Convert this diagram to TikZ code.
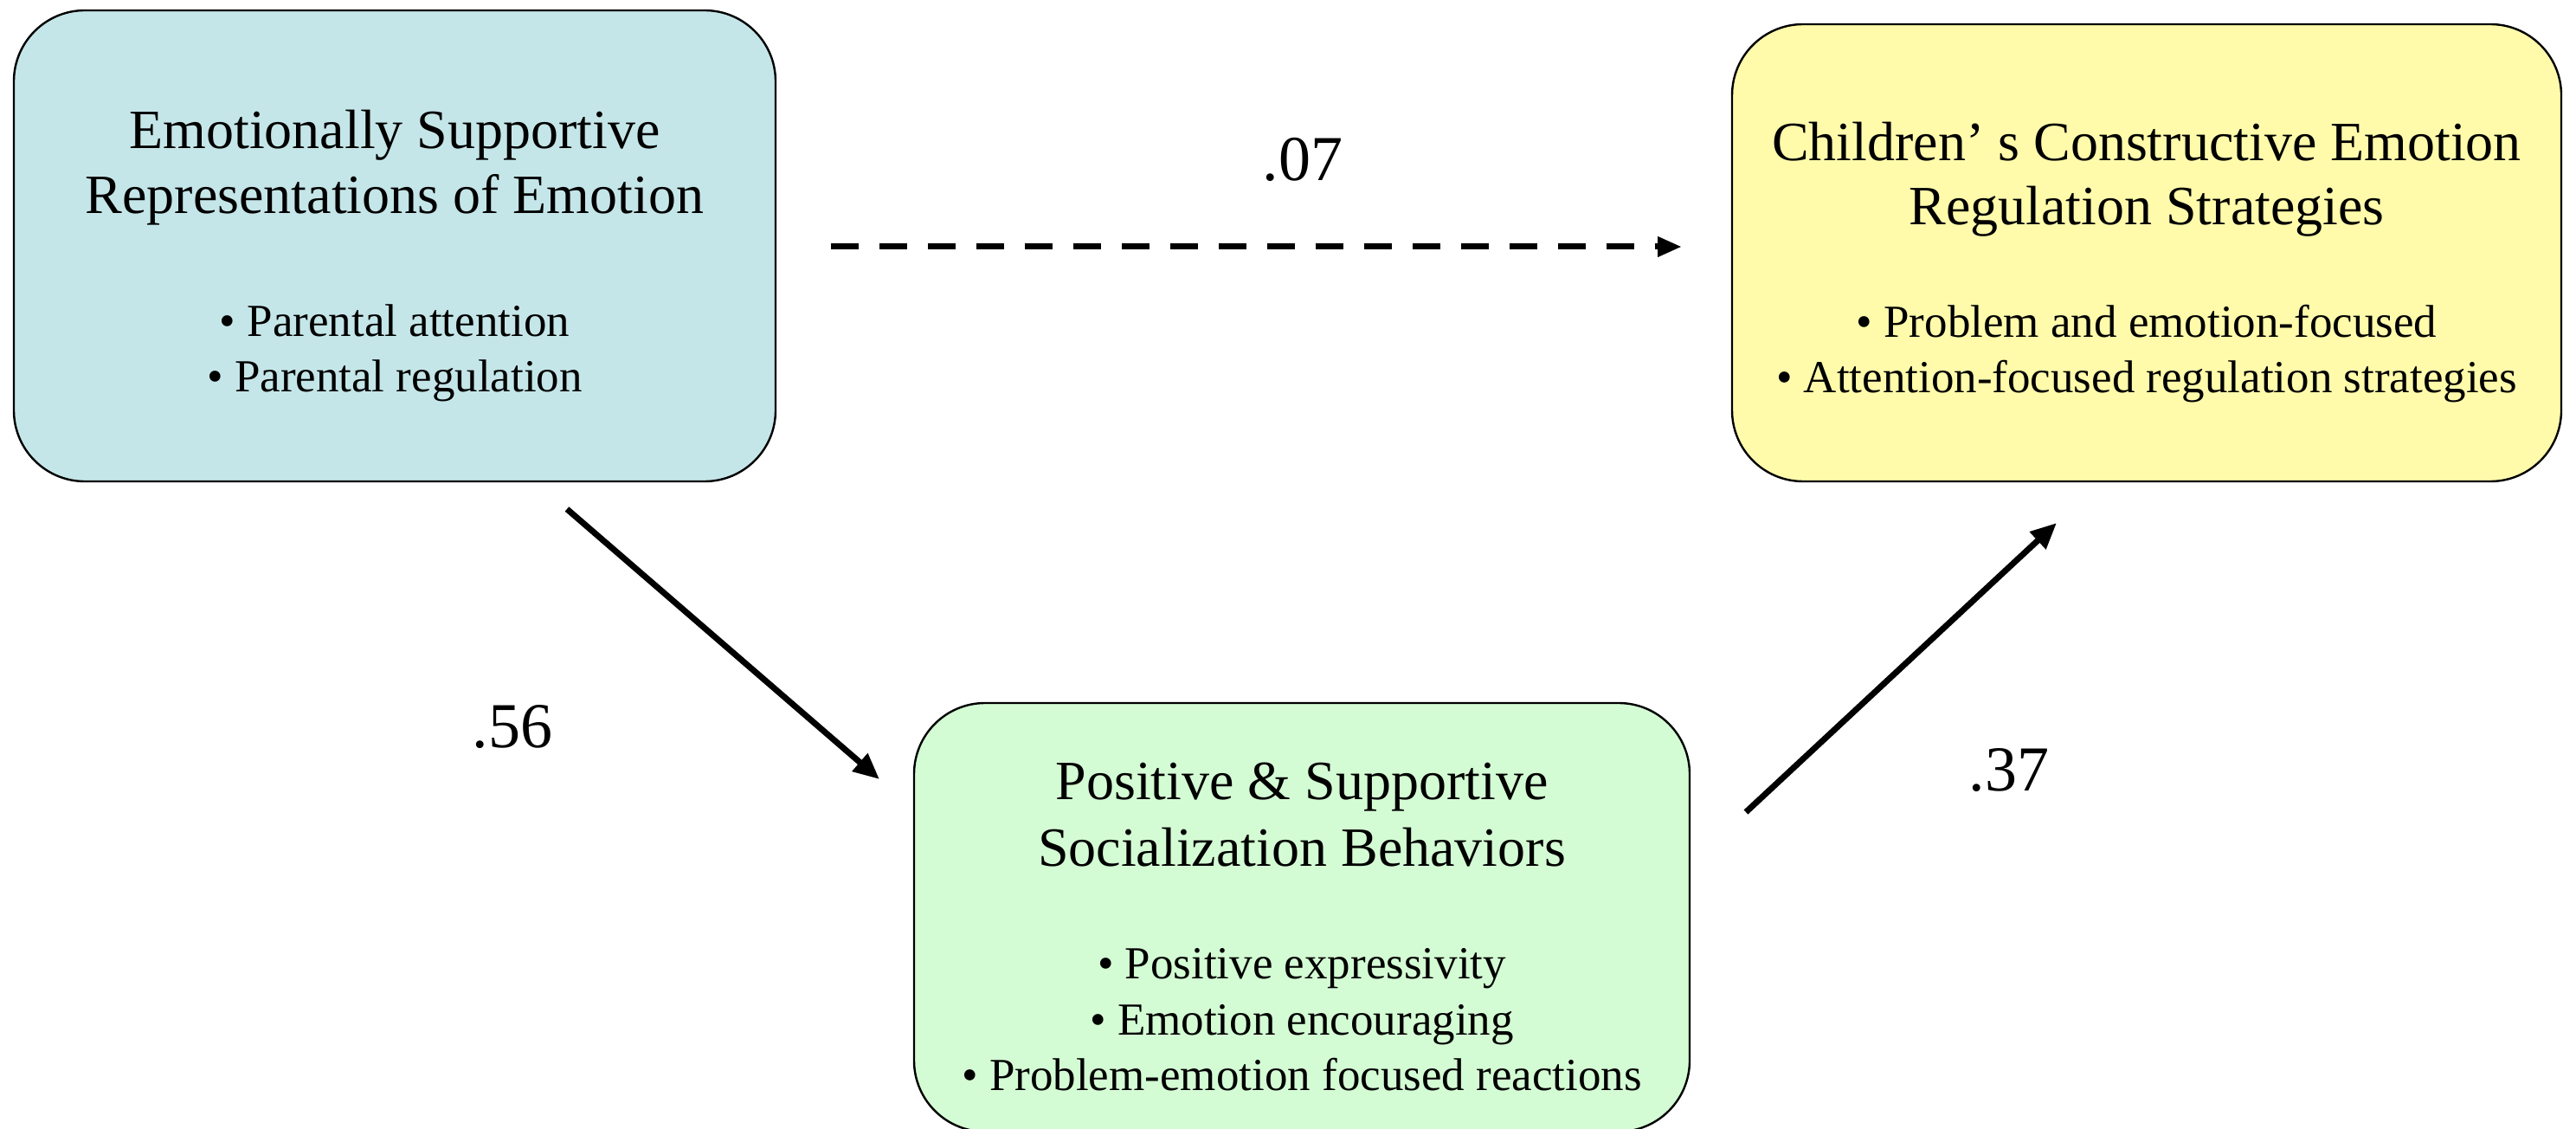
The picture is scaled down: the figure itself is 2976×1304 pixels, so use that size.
\documentclass[tikz,border=0pt]{standalone}
\usepackage{fontspec}
\setmainfont{Liberation Serif}
\usetikzlibrary{arrows.meta}
\definecolor{boxblue}{HTML}{C5E6E8}
\definecolor{boxyellow}{HTML}{FFFBAB}
\definecolor{boxgreen}{HTML}{D4FCD4}
\tikzset{
  box/.style={draw=black, line width=1.2pt, rounded corners=41pt, inner sep=0pt},
  ttl/.style={anchor=base, inner sep=0pt, font=\fontsize{32}{37.5}\selectfont},
  bul/.style={anchor=base, inner sep=0pt, font=\fontsize{26.5}{32.5}\selectfont},
  coef/.style={anchor=base, inner sep=0pt, font=\fontsize{37}{44}\selectfont},
  path/.style={line width=3.5pt, -{Triangle[length=15pt, width=13pt]}},
}
\begin{document}
\begin{tikzpicture}[x=0.5pt, y=-0.5pt]
\useasboundingbox (0,0) rectangle (2976,1304);
% boxes
\node[box, fill=boxblue, minimum width=440pt, minimum height=272pt] (rep) at (456,284) {};
\node[box, fill=boxyellow, minimum width=479pt, minimum height=264pt] (child) at (2480,292) {};
\node[box, fill=boxgreen, minimum width=448pt, minimum height=247.5pt] (soc) at (1504,1059.5) {};
% left box text
\node[ttl] (rep1) at (456,172) {Emotionally Supportive};
\node[ttl] (rep2) at (456,247) {Representations of Emotion};
\node[bul] (rep3) at (456,389) {\textbullet\ Parental attention};
\node[bul] (rep4) at (456,453) {\textbullet\ Parental regulation};
% right box text
\node[ttl] (ch1) at (2480,186) {Children’\hspace{0.25em}s Constructive Emotion};
\node[ttl] (ch2) at (2480,260) {Regulation Strategies};
\node[bul] (ch3) at (2480,390) {\textbullet\ Problem and emotion-focused};
\node[bul] (ch4) at (2480,454) {\textbullet\ Attention-focused regulation strategies};
% bottom box text
\node[ttl] (so1) at (1504,923) {Positive \& Supportive};
\node[ttl] (so2) at (1504,1000) {Socialization Behaviors};
\node[bul] (so3) at (1504,1130) {\textbullet\ Positive expressivity};
\node[bul] (so4) at (1504,1195) {\textbullet\ Emotion encouraging};
\node[bul] (so5) at (1504,1259) {\textbullet\ Problem-emotion focused reactions};
% arrow end points
\coordinate (d0) at (960,285);
\coordinate (d1) at (1943,285);
\coordinate (a0) at (655,588);
\coordinate (a1) at (1016,900);
\coordinate (b0) at (2017,938);
\coordinate (b1) at (2376,604);
% connectors
\draw[path, dash pattern=on 16pt off 12pt, -{Triangle[length=14pt, width=11pt]}] (d0) -- (d1);
\draw[path] (a0) -- (a1);
\draw[path] (b0) -- (b1);
% coefficients
\node[coef] (c07) at (1505,209) {.07};
\node[coef] (c56) at (592,863) {.56};
\node[coef] (c37) at (2321,913) {.37};
\end{tikzpicture}
\end{document}
